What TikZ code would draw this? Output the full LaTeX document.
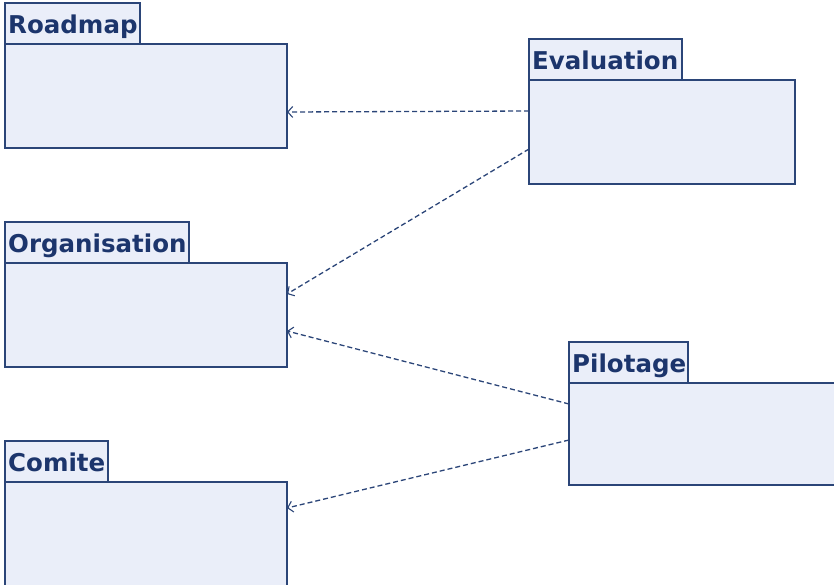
\documentclass[tikz,border=0pt]{standalone}
\usepackage{fontspec}
\setmainfont{DejaVu Sans}
\usetikzlibrary{arrows.meta}
\definecolor{pkgfill}{HTML}{EAEEF9}
\definecolor{pkgline}{HTML}{2B4578}
\definecolor{pkgtext}{HTML}{1C356C}
\tikzset{
  pkgtab/.style={draw=pkgline, fill=pkgfill, line width=2pt, inner sep=0pt, outer sep=0pt, minimum height=41pt},
  pkgbody/.style={draw=pkgline, fill=pkgfill, line width=2pt, inner sep=0pt, outer sep=0pt},
  pkglbl/.style={inner sep=0pt, text=pkgtext, font=\bfseries\fontsize{24.5}{28}\selectfont},
  dep/.style={draw=pkgline, line width=1.3pt, dash pattern=on 5pt off 3pt,
    -{Straight Barb[length=5pt,width=11pt,line width=1.1pt]}},
}
% UML package: name, x, y of tab corner, tab width, body width, body height, title
\newcommand\umlpkg[7]{%
  \node[pkgtab, minimum width=#4pt, anchor=north west] (#1T) at (#2,#3) {};
  \node[pkgbody, minimum width=#5pt, minimum height=#6pt, anchor=north west] (#1) at (#1T.south west) {};
  \node[pkglbl, anchor=base west] (#1L) at ([xshift=3pt,yshift=-30pt]#1T.north west) {#7};
}
\begin{document}
\begin{tikzpicture}[x=1pt,y=-1pt]
  \useasboundingbox (0,0) rectangle (834,584);
  \clip (0,0) rectangle (834,584);
  \umlpkg{road}{5}{3}{135}{282}{104}{Roadmap}
  \umlpkg{eval}{529}{39}{153}{266}{104}{Evaluation}
  \umlpkg{orga}{5}{222}{184}{282}{104}{Organisation}
  \umlpkg{pilo}{569}{342}{119}{275}{102}{Pilotage}
  \umlpkg{comi}{5}{441}{103}{282}{110}{Comite}
  % dependencies
  \draw[dep] ([yshift=21pt]eval.west) -- ([yshift=-16pt]road.east);
  \draw[dep] ([yshift=-17pt]eval.west) -- ([yshift=21pt]orga.east);
  \draw[dep] ([yshift=30pt]pilo.west) -- ([yshift=-16pt]orga.east);
  \draw[dep] ([yshift=-6pt]pilo.west) -- ([yshift=29pt]comi.east);
\end{tikzpicture}
\end{document}
